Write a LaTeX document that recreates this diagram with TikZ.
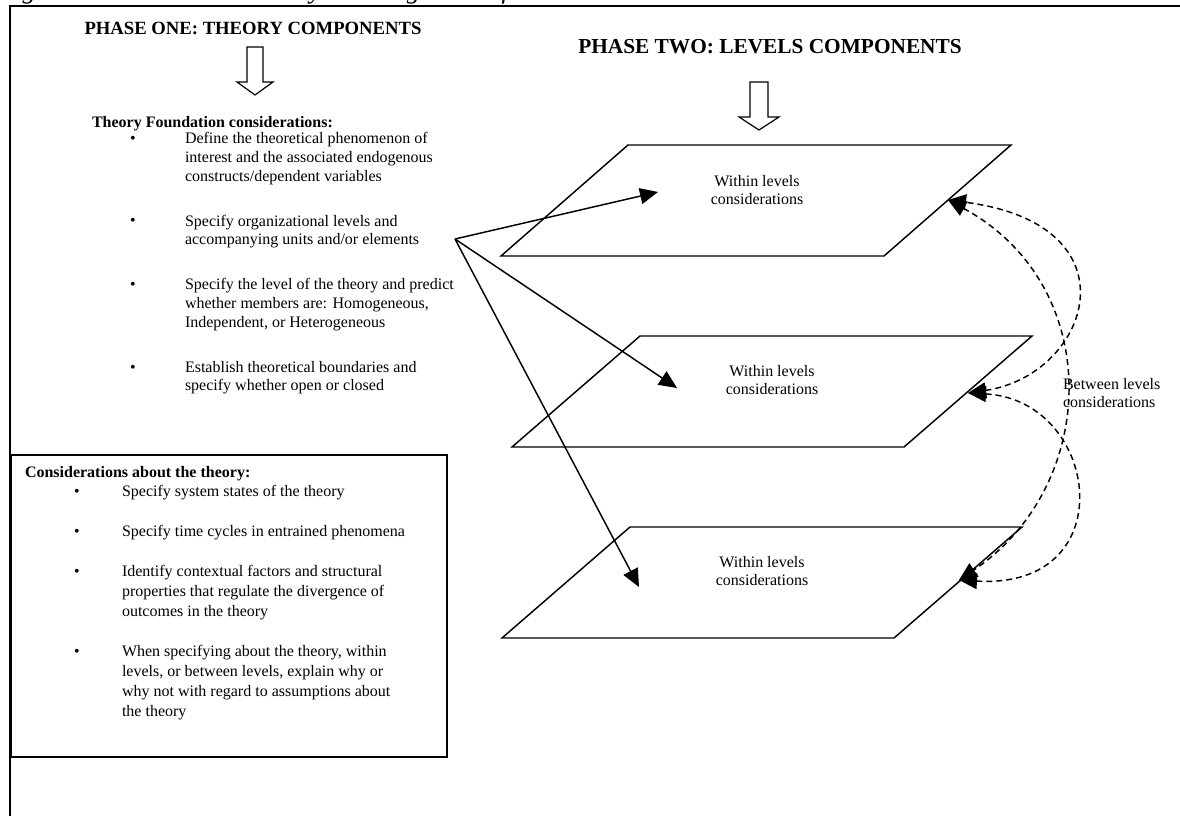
\documentclass[tikz,border=0pt]{standalone}
\usepackage{fontspec}
\setmainfont{Liberation Serif}
\usetikzlibrary{arrows.meta}

\begin{document}
\begin{tikzpicture}[x=0.75pt, y=-0.75pt, line width=1.1pt,
  every node/.style={inner sep=0pt, outer sep=0pt},
  head/.style={anchor=base, font=\fontsize{14}{16}\selectfont\bfseries},
  item/.style={anchor=base west, align=left, font=\fontsize{12}{14}\selectfont},
  boxitem/.style={anchor=base west, align=left, font=\fontsize{12}{15}\selectfont},
  dot/.style={anchor=base, font=\fontsize{12}{14}\selectfont},
  level/.style={align=center, font=\fontsize{12}{14}\selectfont},
  tip/.style={-{Triangle[length=13.5pt, width=12pt]}},
  both/.style={{Triangle[length=13.5pt, width=12pt]}-{Triangle[length=13.5pt, width=12pt]}, dash pattern=on 4.5pt off 3pt}]

\useasboundingbox (0,0) rectangle (1180,816);

%caption, cut off by the page
\node[anchor=base west, font=\fontsize{20}{22}\selectfont\itshape] (cap) at (-1,-1) {Figure 1: A Multilevel Theory Building Model for HRD};

%frame
\draw (10,816) -- (10,6) -- (1180,6);

%phase one (multi-line nodes sit on their last baseline)
\node[head] (h1) at (253,35) {PHASE ONE: THEORY COMPONENTS};
\draw[line width=0.9pt] (247,47) -- (263,47) -- (263,82) -- (273,82) -- (255,95) -- (237,82) -- (247,82) -- cycle;

\node[item, font=\fontsize{12}{14}\selectfont\bfseries] (fnd) at (92,128) {Theory Foundation considerations:};
\node[dot] (b1) at (133,144) {\textbullet};
\node[item] (f1) at (185,181.3) {Define the theoretical phenomenon of\\interest and the associated endogenous\\constructs/dependent variables};
\node[dot] (b2) at (133,226) {\textbullet};
\node[item] (f2) at (185,244.7) {Specify organizational levels and\\accompanying units and/or elements};
\node[dot] (b3) at (133,290) {\textbullet};
\node[item] (f3) at (185,327.3) {Specify the level of the theory and predict\\whether members are: Homogeneous,\\Independent, or Heterogeneous};
\node[dot] (b4) at (133,372) {\textbullet};
\node[item] (f4) at (185,390.7) {Establish theoretical boundaries and\\specify whether open or closed};

%box
\draw[line width=1.9pt] (11,455) rectangle (447,757);
\node[boxitem, font=\fontsize{12}{15}\selectfont\bfseries] (abt) at (25,477) {Considerations about the theory:};
\node[dot] (c1) at (77,496) {\textbullet};
\node[boxitem] (a1) at (122,496) {Specify system states of the theory};
\node[dot] (c2) at (77,536) {\textbullet};
\node[boxitem] (a2) at (122,536) {Specify time cycles in entrained phenomena};
\node[dot] (c3) at (77,576) {\textbullet};
\node[boxitem] (a3) at (122,616) {Identify contextual factors and structural\\properties that regulate the divergence of\\outcomes in the theory};
\node[dot] (c4) at (77,656) {\textbullet};
\node[boxitem] (a4) at (122,716) {When specifying about the theory, within\\levels, or between levels, explain why or\\why not with regard to assumptions about\\the theory};

%phase two
\node[head, font=\fontsize{16}{18}\selectfont\bfseries] (h2) at (770,54) {PHASE TWO: LEVELS COMPONENTS};
\draw[line width=0.9pt] (750,82) -- (768,82) -- (768,117) -- (779,117) -- (759,130) -- (739,117) -- (750,117) -- cycle;

%levels
\draw (628,145) -- (1011,145) -- (884,256) -- (501,256) -- cycle;
\draw (640,336) -- (1032,336) -- (904,447) -- (512,447) -- cycle;
\draw (630,527) -- (1022,527) -- (894,638) -- (502,638) -- cycle;

\node[level] (wA) at (757,190) {Within levels\\considerations};
\node[level] (wB) at (772,380) {Within levels\\considerations};
\node[level] (wC) at (762,571) {Within levels\\considerations};

%solid arrows
\coordinate (src) at (455,239);
\coordinate (tA) at (658,192);
\coordinate (tB) at (677,388);
\coordinate (tC) at (639,587);
\draw[tip] (src) -- (tA);
\draw[tip] (src) -- (tB);
\draw[tip] (src) -- (tC);

%between levels
\coordinate (dA) at (948,200);
\coordinate (dB) at (968,393);
\coordinate (dC) at (959,580);
\draw[both] (dB) .. controls (1090,375) and (1140,225) .. (dA);
\draw[both] (dA) .. controls (1105,285) and (1100,485) .. (dC);
\draw[both] (dB) .. controls (1100,400) and (1125,590) .. (dC);

\node[item] (btw) at (1063,407.7) {Between levels\\considerations};

\end{tikzpicture}
\end{document}
